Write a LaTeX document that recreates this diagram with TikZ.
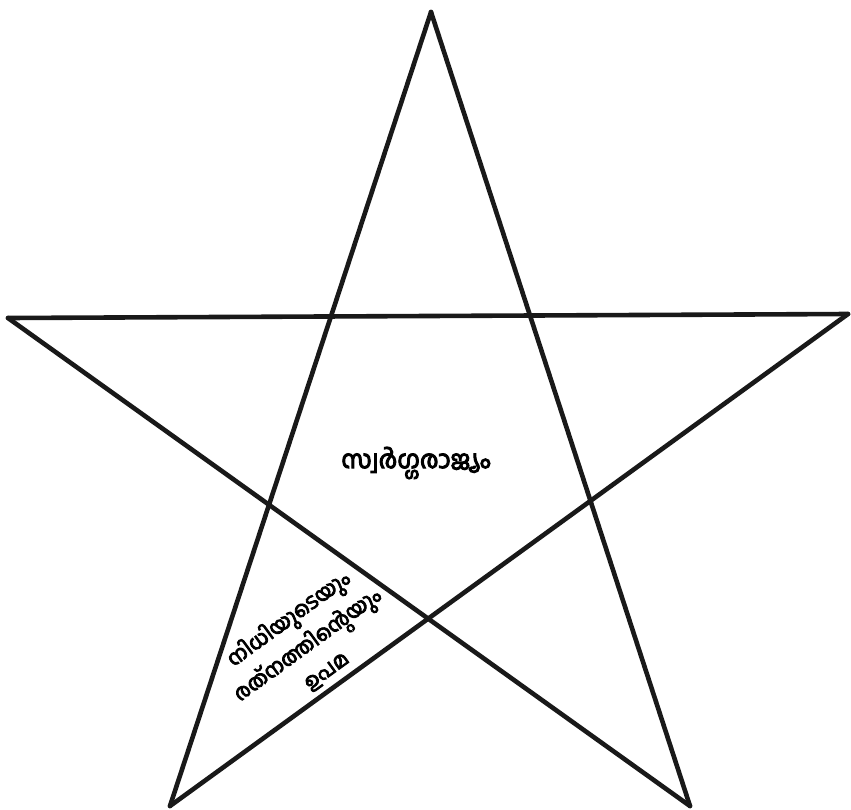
\documentclass[tikz,border=0pt]{standalone}
\usepackage{fontspec}
\newfontfamily\mlfont[Script=Malayalam,FakeBold=4]{Hind Kochi}
\begin{document}
\begin{tikzpicture}[x=1pt,y=-1pt,
  starline/.style={line width=4.6pt, draw=black!90, line cap=round, line join=miter},
  label/.style={font=\mlfont\fontsize{25}{30}\selectfont, align=center, inner sep=0pt}]
\useasboundingbox (0,0) rectangle (851,809);
\coordinate (T) at (431,12);
\coordinate (L) at (8,318);
\coordinate (R) at (848,314);
\coordinate (BL) at (170,806);
\coordinate (BR) at (690,806);
\draw[starline] (T) -- (BL);
\draw[starline] (T) -- (BR);
\draw[starline] (L) -- (R);
\draw[starline] (L) -- (BR);
\draw[starline] (R) -- (BL);
\node[label] (heaven) at (416,463) {സ്വർഗ്ഗരാജ്യം};
\node[label, rotate=36, font=\mlfont\fontsize{21}{32}\selectfont] (parable) at (307,644) {നിധിയുടെയും\\രത്നത്തിന്റെയും\\ഉപമ};
\end{tikzpicture}
\end{document}
